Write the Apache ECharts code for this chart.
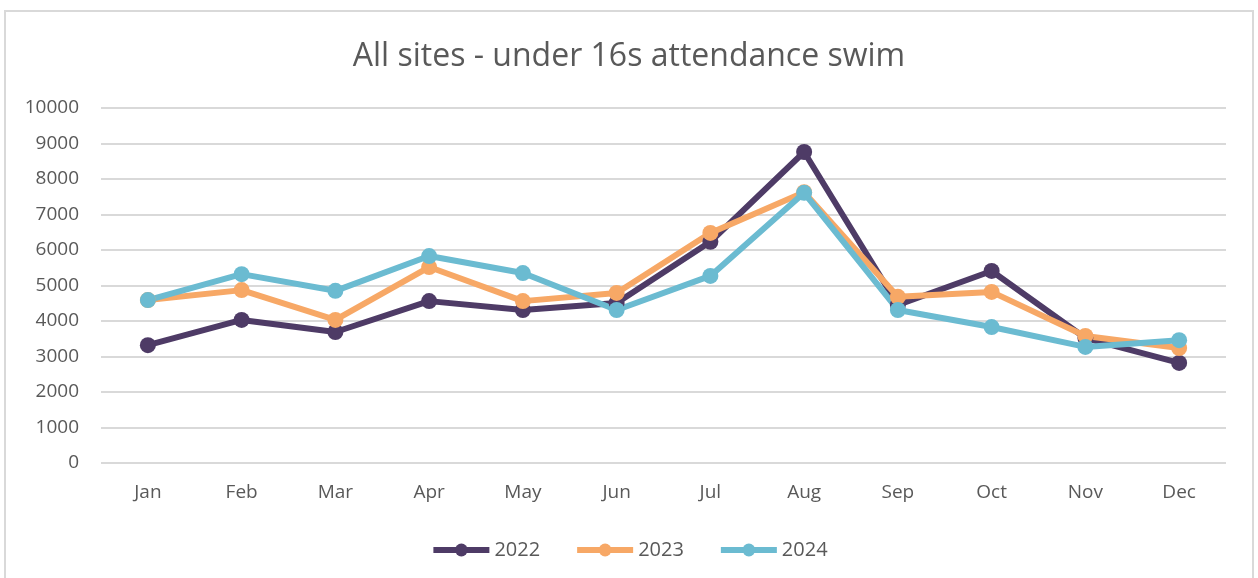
<!doctype html>
<html lang="en">
<head>
    <meta charset="UTF-8">
    <title>All sites - under 16s attendance swim</title>
    <style>
        html, body { margin: 0; padding: 0; background: #fff; }
        #chart { width: 1258px; height: 578px; }
    </style>
</head>
<body>
<div id="chart"></div>
<script src="https://cdn.jsdelivr.net/npm/echarts@6/dist/echarts.min.js"></script>
<script>
    var months = ['Jan', 'Feb', 'Mar', 'Apr', 'May', 'Jun', 'Jul', 'Aug', 'Sep', 'Oct', 'Nov', 'Dec'];
    var years = ['2022', '2023', '2024'];
    var data2022 = [3320, 4030, 3690, 4560, 4310, 4510, 6230, 8760, 4450, 5410, 3520, 2820];
    var data2023 = [4590, 4870, 4030, 5520, 4560, 4790, 6480, 7630, 4680, 4820, 3580, 3240];
    var data2024 = [4590, 5320, 4850, 5830, 5350, 4310, 5270, 7610, 4310, 3830, 3270, 3460];
    var colors = ['#4e3b66', '#f7a866', '#6bbbd1'];

    var textColor = '#595959';
    var font = 'Open Sans';

    function makeSeries(name, values, color) {
        return {
            name: name,
            type: 'line',
            data: values,
            symbol: 'circle',
            symbolSize: 16,
            lineStyle: { width: 6, color: color },
            itemStyle: { color: color },
            emphasis: { disabled: true },
            animation: false
        };
    }

    var myChart = echarts.init(document.getElementById('chart'));
    myChart.setOption({
        title: {
            text: 'All sites - under 16s attendance swim',
            left: 'center',
            top: 36,
            textStyle: { fontFamily: font, fontSize: 32, fontWeight: 'normal', color: textColor }
        },
        graphic: [{
            type: 'rect',
            shape: { x: 5, y: 11, width: 1248, height: 580 },
            style: { fill: 'none', stroke: '#d9d9d9', lineWidth: 2 },
            silent: true
        }],
        legend: {
            data: years,
            bottom: 13,
            left: 'center',
            itemWidth: 56,
            itemHeight: 16,
            itemGap: 34,
            lineStyle: { width: 6 },
            textStyle: { fontFamily: font, fontSize: 20, color: textColor }
        },
        grid: {
            left: 101,
            right: 32,
            top: 108,
            bottom: 115
        },
        xAxis: {
            type: 'category',
            data: months,
            boundaryGap: true,
            axisLine: { show: false },
            axisTick: { show: false },
            axisLabel: { fontFamily: font, fontSize: 19, color: textColor, margin: 20 }
        },
        yAxis: {
            type: 'value',
            min: 0,
            max: 10000,
            interval: 1000,
            axisLine: { show: false },
            axisTick: { show: false },
            axisLabel: {
                fontFamily: font, fontSize: 19, color: textColor, margin: 22,
                formatter: function (v) { return String(v); }
            },
            splitLine: { lineStyle: { color: '#d9d9d9', width: 2 } }
        },
        series: [
            makeSeries(years[0], data2022, colors[0]),
            makeSeries(years[1], data2023, colors[1]),
            makeSeries(years[2], data2024, colors[2])
        ]
    });
</script>
</body>
</html>
